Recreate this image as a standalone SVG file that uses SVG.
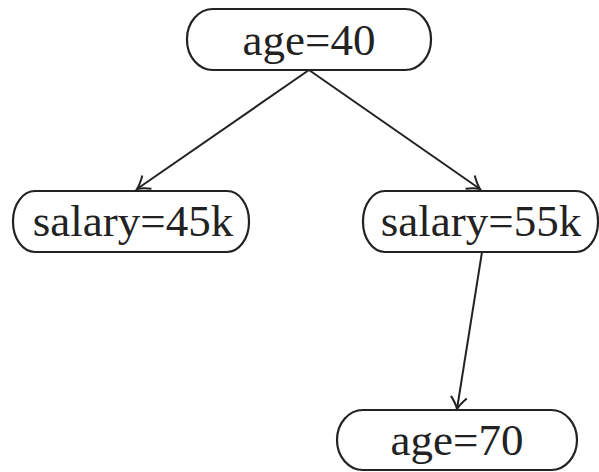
<svg xmlns="http://www.w3.org/2000/svg" width="599" height="472" viewBox="0 0 599 472">
<style>
.node rect{fill:#fff;stroke:#222;stroke-width:2.2}
.node text{font-family:"Liberation Serif",serif;font-size:45px;fill:#222;text-anchor:middle}
.edge{stroke:#222;stroke-width:2;fill:none;marker-end:url(#arr)}
</style>
<defs>
<marker id="arr" viewBox="-14 -9 16 18" refX="0" refY="0" markerWidth="16" markerHeight="18" markerUnits="userSpaceOnUse" orient="auto">
<path d="M-12,-8 Q-5,-2 0,0 Q-5,2 -12,8" fill="none" stroke="#222" stroke-width="2"/>
</marker>
</defs>
<g id="edges">
<line class="edge" x1="309" y1="70" x2="137" y2="189"/>
<line class="edge" x1="309" y1="70" x2="480" y2="189"/>
<line class="edge" x1="482" y1="252" x2="457" y2="409"/>
</g>
<g id="n1" class="node"><rect x="187" y="9" width="244" height="61" rx="26" ry="30"/><text x="309" y="55">age=40</text></g>
<g id="n2" class="node"><rect x="13" y="191" width="236" height="61" rx="22" ry="30"/><text x="133" y="236">salary=45k</text></g>
<g id="n3" class="node"><rect x="363" y="191" width="235" height="61" rx="22" ry="30"/><text x="481" y="236">salary=55k</text></g>
<g id="n4" class="node"><rect x="337" y="410" width="240" height="60" rx="26" ry="30"/><text x="457" y="455">age=70</text></g>
</svg>
